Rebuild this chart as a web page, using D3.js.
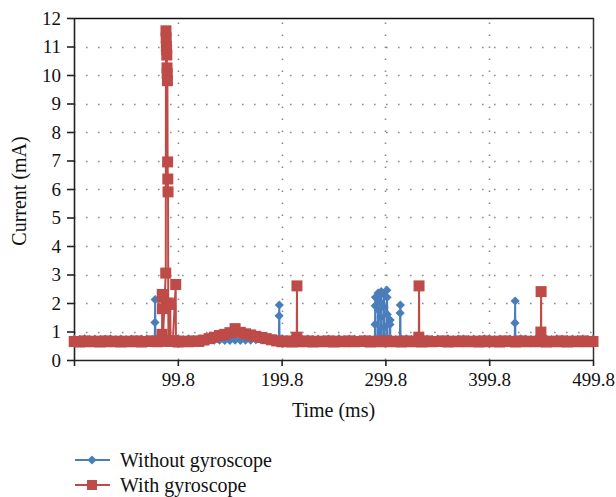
<!DOCTYPE html>
<html><head><meta charset="utf-8">
<script src="https://cdn.jsdelivr.net/npm/d3@7"></script>
<style>
body{margin:0;background:#fff}
svg{display:block}
text{font-family:"Liberation Serif","DejaVu Serif",serif;fill:#111}
</style>
</head><body>
<svg id="c" width="616" height="497"></svg>
<script>
// ---------- data ----------
const seriesNames = ["Without gyroscope", "With gyroscope"];
const xTickValues = [99.8, 199.8, 299.8, 399.8, 499.8];
const yTickValues = [0,1,2,3,4,5,6,7,8,9,10,11,12];
const xTitle = "Time (ms)";
const yTitle = "Current (mA)";

// baseline sample times (ms)
const baseTime = d3.range(0, 500, 5).concat([499.8]);

// Without gyroscope: baseline values (mA)
const blueBase = [
0.73,0.72,0.74,0.72,0.73,0.72,0.73,0.74,0.72,0.73,
0.72,0.73,0.72,0.73,0.74,0.72,0.72,0.73,0.73,0.72,
0.73,0.72,0.74,0.72,0.73,0.72,0.71,0.70,0.70,0.69,
0.69,0.70,0.69,0.70,0.70,0.71,0.71,0.72,0.72,0.72,
0.73,0.72,0.73,0.74,0.72,0.73,0.72,0.73,0.72,0.73,
0.72,0.74,0.72,0.73,0.73,0.72,0.73,0.72,0.74,0.73,
0.72,0.73,0.72,0.73,0.74,0.72,0.73,0.72,0.73,0.72,
0.73,0.72,0.74,0.72,0.73,0.73,0.72,0.73,0.72,0.74,
0.73,0.72,0.73,0.72,0.73,0.72,0.74,0.73,0.72,0.73,
0.72,0.73,0.72,0.74,0.73,0.72,0.73,0.72,0.73,0.72,
0.73];

// Without gyroscope: spikes
const blueSpikeTime = [
 77.6, 77.8, 78.0, 78.2,
 197.2, 197.4, 197.6, 197.8,
 289.6, 289.8, 290.0, 290.2, 290.4,
 292.6, 292.8, 293.0, 293.2, 293.4, 293.6,
 295.4, 295.6, 295.8, 296.0, 296.2,
 298.2, 298.4, 298.6, 298.8, 299.0,
 301.0, 301.2, 301.4, 301.6, 301.8,
 304.0, 304.2, 304.4, 304.6,
 313.8, 314.0, 314.2, 314.4,
 424.4, 424.6, 424.8, 425.0];
const blueSpikeValue = [
 0.73, 1.32, 2.12, 0.73,
 0.73, 1.55, 1.93, 0.73,
 0.73, 1.25, 1.90, 2.20, 0.73,
 0.73, 2.35, 2.10, 1.75, 2.25, 0.73,
 0.73, 1.50, 2.40, 2.00, 0.73,
 0.73, 2.30, 1.85, 1.15, 0.73,
 0.73, 2.45, 2.20, 1.60, 0.73,
 0.73, 1.25, 1.40, 0.73,
 0.73, 1.65, 1.93, 0.73,
 0.73, 1.30, 2.07, 0.73];

// With gyroscope: baseline values (mA)
const redBase = [
0.65,0.63,0.67,0.64,0.66,0.63,0.67,0.64,0.66,0.63,
0.66,0.64,0.67,0.63,0.65,0.67,0.64,0.66,0.64,0.67,
0.63,0.66,0.64,0.67,0.65,0.70,0.75,0.80,0.86,0.90,
0.96,1.10,0.97,0.92,0.88,0.83,0.79,0.75,0.71,0.67,
0.64,0.67,0.63,0.66,0.64,0.67,0.63,0.66,0.64,0.67,
0.63,0.66,0.64,0.67,0.64,0.65,0.67,0.63,0.66,0.64,
0.67,0.64,0.66,0.63,0.67,0.64,0.66,0.63,0.67,0.64,
0.65,0.67,0.63,0.66,0.64,0.67,0.64,0.66,0.63,0.67,
0.64,0.66,0.63,0.67,0.65,0.63,0.67,0.64,0.66,0.64,
0.67,0.63,0.66,0.64,0.67,0.63,0.66,0.64,0.67,0.64,
0.65];

// With gyroscope: spikes
const redSpikeTime = [
 84.6, 84.8, 85.0, 85.2, 85.4,
 88.2, 88.4, 88.6, 88.8, 89.0, 89.2, 89.4, 89.6, 89.8, 90.0, 90.2, 90.4, 90.6, 90.8,
 92.6, 92.8,
 97.8, 98.0,
 214.4, 214.6, 214.8,
 332.0, 332.2, 332.4,
 449.6, 449.8, 450.0];
const redSpikeValue = [
 0.90, 2.30, 1.80, 2.20, 0.66,
 3.05, 11.55, 11.30, 11.00, 10.90, 10.70, 10.25, 10.05, 9.80, 6.95, 6.35, 5.90, 2.00, 0.66,
 1.95, 0.66,
 2.65, 0.66,
 0.80, 2.60, 0.66,
 0.80, 2.60, 0.66,
 0.98, 2.40, 0.66];

const colors = ["#4A7EBB", "#BE4B48"];

// ---------- build series ----------
function build(bt, bv, st, sv) {
  const spikes = st.map((t, i) => ({t, v: sv[i]}));
  const base = bt.map((t, i) => ({t, v: bv[i]}))
    .filter(p => !st.some(s => Math.abs(s - p.t) < 0.25));
  return base.concat(spikes).sort((a, b) => a.t - b.t);
}
const blueData = build(baseTime, blueBase, blueSpikeTime, blueSpikeValue);
const redData = build(baseTime, redBase, redSpikeTime, redSpikeValue);

// ---------- layout ----------
const svg = d3.select("#c");
const L = 74, R = 593, T = 18, B = 360;
const x = d3.scaleLinear().domain([-0.2, 499.8]).range([L, R]);
const y = d3.scaleLinear().domain([0, 12]).range([B, T]);

// gridlines
const grid = svg.append("g").attr("stroke", "#8a8a8a").attr("stroke-width", 1.6)
  .attr("stroke-dasharray", "1.6,10.4");
grid.selectAll("line.h").data(yTickValues.filter(v => v > 0 && v < 12)).join("line")
  .attr("x1", L).attr("x2", R).attr("y1", d => Math.round(y(d)) + 0.5).attr("y2", d => Math.round(y(d)) + 0.5);
grid.selectAll("line.v").data(xTickValues.filter(v => v < 499)).join("line")
  .attr("y1", B).attr("y2", T).attr("x1", d => Math.round(x(d)) + 0.5).attr("x2", d => Math.round(x(d)) + 0.5);

// border top / right
svg.append("line").attr("x1", L).attr("x2", R + 1).attr("y1", T + 0.5).attr("y2", T + 0.5)
  .attr("stroke", "#111").attr("stroke-width", 1.5);
svg.append("line").attr("x1", R + 0.5).attr("x2", R + 0.5).attr("y1", T).attr("y2", B)
  .attr("stroke", "#333").attr("stroke-width", 1.5);

// axes
const yAxis = d3.axisLeft(y).tickValues(yTickValues).tickSize(7).tickPadding(6).tickSizeOuter(0);
const gy = svg.append("g").attr("transform", `translate(${L},0)`).call(yAxis);
const xAxis = d3.axisBottom(x).tickValues([-0.2].concat(xTickValues))
  .tickFormat(d => d < 0 ? "" : d3.format(".1f")(d)).tickSize(6).tickPadding(7).tickSizeOuter(0);
const gx = svg.append("g").attr("transform", `translate(0,${B})`).call(xAxis);
[gx, gy].forEach(g => {
  g.selectAll("path.domain").attr("stroke", "#222").attr("stroke-width", 1.6);
  g.selectAll(".tick line").attr("stroke", "#222").attr("stroke-width", 1.6);
  g.selectAll("text").style("font-family", '"Liberation Serif",serif').style("font-size", "19px").attr("fill", "#111");
});

// titles
svg.append("text").attr("x", (L + R) / 2).attr("y", 417).attr("text-anchor", "middle")
  .style("font-size", "20px").text(xTitle);
svg.append("text").attr("transform", "translate(26,191) rotate(-90)").attr("text-anchor", "middle")
  .style("font-size", "20px").text(yTitle);

// series
const line = d3.line().x(d => x(d.t)).y(d => y(d.v));
const diamond = r => `M0,${-r}L${r},0L0,${r}L${-r},0Z`;

function drawSeries(data, color, kind) {
  const g = svg.append("g");
  g.append("path").datum(data).attr("d", line).attr("fill", "none")
    .attr("stroke", color).attr("stroke-width", 2).attr("stroke-linejoin", "round");
  if (kind === "diamond") {
    g.selectAll("path.m").data(data).join("path").attr("class", "m")
      .attr("transform", d => `translate(${x(d.t)},${y(d.v)})`)
      .attr("d", diamond(4.6)).attr("fill", color);
  } else {
    g.selectAll("rect.m").data(data).join("rect").attr("class", "m")
      .attr("x", d => x(d.t) - 5.5).attr("y", d => y(d.v) - 5.5)
      .attr("width", 11).attr("height", 11).attr("fill", color);
  }
}
drawSeries(blueData, colors[0], "diamond");
drawSeries(redData, colors[1], "square");

// legend
const leg = svg.append("g");
const legY = [460, 485];
seriesNames.forEach((name, i) => {
  leg.append("line").attr("x1", 75).attr("x2", 110).attr("y1", legY[i]).attr("y2", legY[i])
    .attr("stroke", colors[i]).attr("stroke-width", 2);
  if (i === 0) {
    leg.append("path").attr("transform", `translate(92,${legY[i]})`).attr("d", diamond(4.6)).attr("fill", colors[i]);
  } else {
    leg.append("rect").attr("x", 92 - 5).attr("y", legY[i] - 5).attr("width", 10).attr("height", 10).attr("fill", colors[i]);
  }
  leg.append("text").attr("x", 120).attr("y", legY[i] + 6.5).style("font-size", "20px").text(name);
});
</script>
</body></html>
